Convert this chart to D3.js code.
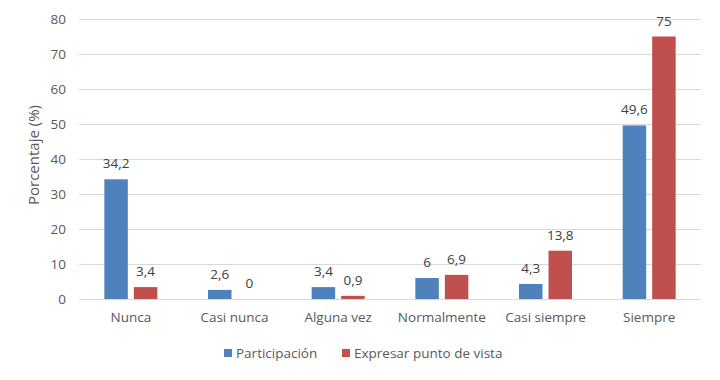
<!DOCTYPE html>
<html><head><meta charset="utf-8">
<script src="https://cdn.jsdelivr.net/npm/d3@7"></script>
<style>body{margin:0;background:#fff}svg{display:block}text{font-family:"Open Sans",sans-serif}</style>
</head><body>
<script>
const categories = ["Nunca","Casi nunca","Alguna vez","Normalmente","Casi siempre","Siempre"];
const participacion = [34.2, 2.6, 3.4, 6, 4.3, 49.6];
const expresar = [3.4, 0, 0.9, 6.9, 13.8, 75];
const seriesNames = ["Participación","Expresar punto de vista"];
const colors = ["#4F81BD","#C0504D"];
const yTicks = [0,10,20,30,40,50,60,70,80];

const W=720,H=380;
const m={l:79,r:19,t:19,b:81};
const svg=d3.select("body").append("svg").attr("width",W).attr("height",H);
const x=d3.scaleBand().domain(categories).range([m.l,W-m.r]);
const y=d3.scaleLinear().domain([0,80]).range([H-m.b,m.t]);
const fmt=v=>String(v).replace(".",",");
const fs="13.5px";

svg.append("g").selectAll("line").data(yTicks).join("line")
 .attr("x1",m.l).attr("x2",W-m.r).attr("y1",d=>y(d)+0.5).attr("y2",d=>y(d)+0.5)
 .attr("stroke","#D9D9D9").attr("stroke-width",1);

const yAxis=svg.append("g").attr("transform",`translate(${m.l},0)`)
 .call(d3.axisLeft(y).tickValues(yTicks).tickSize(0).tickPadding(13));
yAxis.select(".domain").remove();
yAxis.selectAll("text").attr("fill","#595959").style("font-size",fs).style("font-family","Open Sans");

const xAxis=svg.append("g").attr("transform",`translate(0,${H-m.b})`)
 .call(d3.axisBottom(x).tickSize(0).tickPadding(13));
xAxis.select(".domain").remove();
xAxis.selectAll("text").attr("fill","#595959").style("font-size",fs).style("font-family","Open Sans");

const bw=23.5, gap=6;
const series=[participacion,expresar];
series.forEach((vals,si)=>{
  const g=svg.append("g");
  const bx=(c)=>x(c)+x.bandwidth()/2 + (si===0 ? -gap/2-bw : gap/2);
  g.selectAll("rect").data(categories).join("rect")
   .attr("x",(c)=>bx(c)).attr("width",bw)
   .attr("y",(c,i)=>y(vals[i])).attr("height",(c,i)=>y(0)-y(vals[i]))
   .attr("fill",colors[si]);
  g.selectAll("text").data(categories).join("text")
   .attr("x",(c)=>bx(c)+bw/2).attr("y",(c,i)=>y(vals[i])-11)
   .attr("text-anchor","middle").attr("fill","#404040").style("font-size",fs)
   .text((c,i)=>fmt(vals[i]));
});

svg.append("text").attr("transform",`translate(39,155) rotate(-90)`)
 .attr("text-anchor","middle").attr("fill","#595959").style("font-size","15px").text("Porcentaje (%)");

const leg=svg.append("g");
const lx=[224,342];
seriesNames.forEach((n,i)=>{
  leg.append("rect").attr("x",lx[i]).attr("y",349).attr("width",8).attr("height",8).attr("fill",colors[i]);
  leg.append("text").attr("x",lx[i]+12).attr("y",358).attr("fill","#595959").style("font-size",fs).text(n);
});
</script>
</body></html>
